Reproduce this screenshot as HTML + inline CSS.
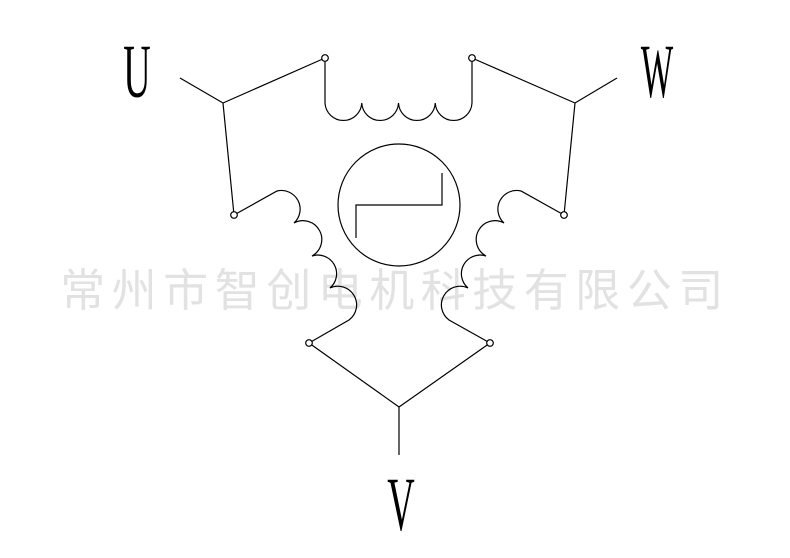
<!DOCTYPE html>
<html><head><meta charset="utf-8"><style>
html,body{margin:0;padding:0;background:#fff;}
svg{display:block}
</style></head><body>
<svg width="790" height="558" viewBox="0 0 790 558" xmlns="http://www.w3.org/2000/svg">
<text x="395" y="306" text-anchor="middle" font-family="Noto Sans CJK SC, sans-serif" font-size="45" letter-spacing="6.5" fill="#e2e2e2">常州市智创电机科技有限公司</text>
<g fill="none" stroke="#000" stroke-width="1.2">
<path d="M180 78 L223 103 L325 58 M223 103 L234 215"/>
<path d="M617 78 L575 103 L472 58 M575 103 L564 215"/>
<path d="M325 58 L325 103 A18.4 18.4 0 0 0 361.75 103 A18.4 18.4 0 0 0 398.5 103 A18.4 18.4 0 0 0 435.25 103 A18.4 18.4 0 0 0 472 103 L472 58"/>
<path d="M234 215 L277 191 A18.7 18.7 0 0 1 294 223 A18.7 18.7 0 0 1 312 256 A18.7 18.7 0 0 1 330 288 A18.7 18.7 0 0 1 349 320 L309 343"/>
<path d="M564 215 L521 191 A18.7 18.7 0 0 0 504 223 A18.7 18.7 0 0 0 486 256 A18.7 18.7 0 0 0 468 288 A18.7 18.7 0 0 0 449 320 L490 343"/>
<path d="M309 343 L399 407 L490 343 M399 407 L399 455"/>
<circle cx="399" cy="205" r="61"/>
<path d="M356 238 L356 205 L442 205 L442 173"/>
<circle cx="325" cy="58" r="3.3" fill="#fff"/>
<circle cx="472" cy="58" r="3.3" fill="#fff"/>
<circle cx="234" cy="215" r="3.3" fill="#fff"/>
<circle cx="564" cy="215" r="3.3" fill="#fff"/>
<circle cx="309" cy="343" r="3.3" fill="#fff"/>
<circle cx="490" cy="343" r="3.3" fill="#fff"/>
</g>
<g font-family="Liberation Serif, serif" font-size="76" fill="#000">
<text transform="translate(137 97) scale(0.5 1)" text-anchor="middle">U</text>
<text transform="translate(657 97) scale(0.45 1)" text-anchor="middle">W</text>
<text transform="translate(401 530) scale(0.5 1)" text-anchor="middle">V</text>
</g>
</svg>
</body></html>
